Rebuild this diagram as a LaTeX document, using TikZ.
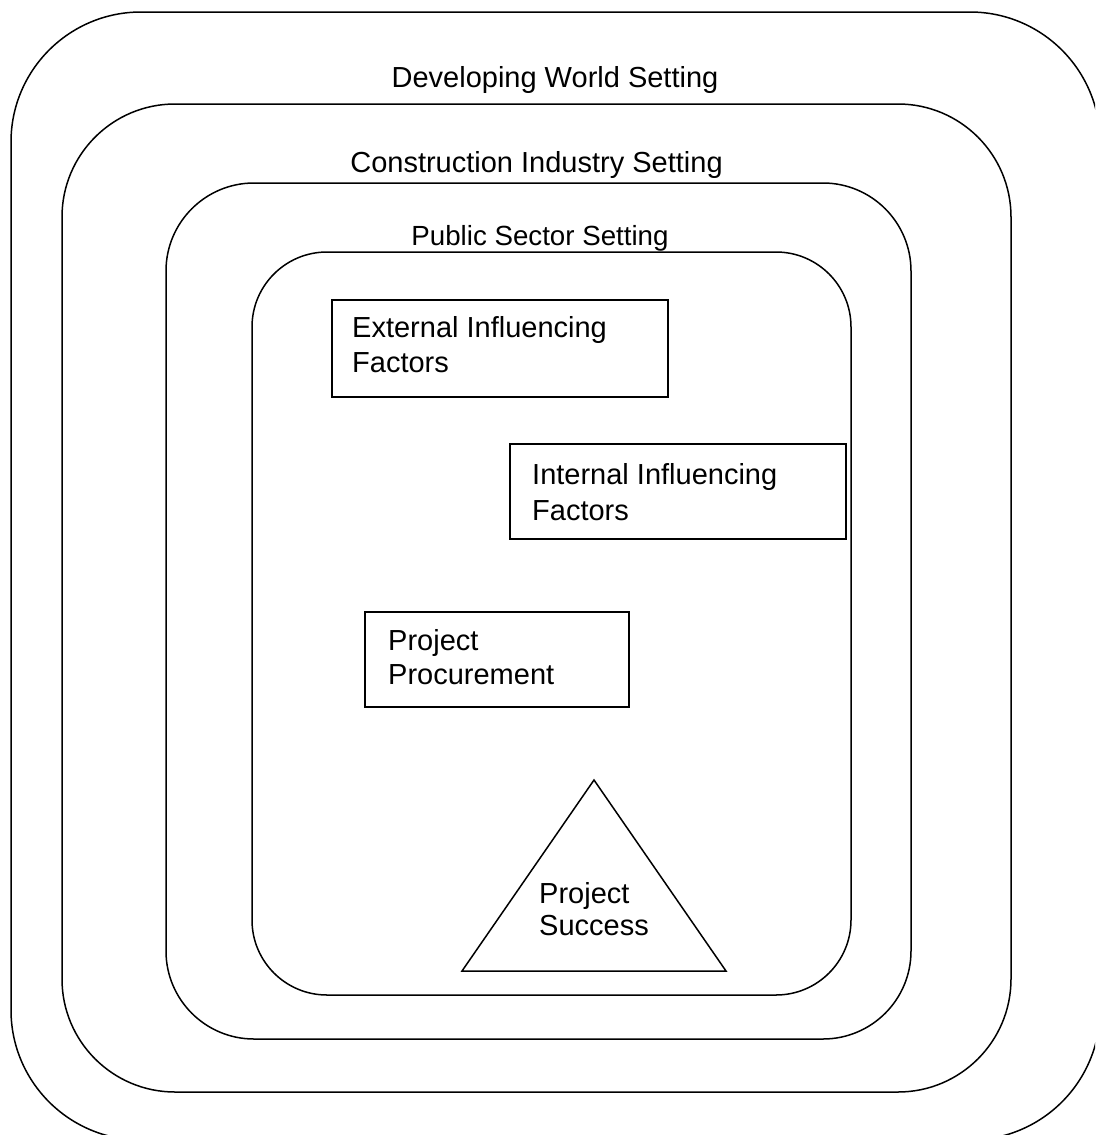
\documentclass[tikz,border=0pt]{standalone}
\usepackage{fontspec}
\setmainfont{Liberation Sans}
\begin{document}
\begin{tikzpicture}[x=1pt,y=-1pt,
  frame/.style={draw=black,line width=1.5pt},
  box/.style={draw=black,line width=1.5pt,inner sep=0pt,minimum width=#1},
  lbl/.style={inner sep=0pt,anchor=base west,font=\fontsize{29}{34}\selectfont},
  ttl/.style={inner sep=0pt,anchor=base,font=\fontsize{29}{34}\selectfont}]
\useasboundingbox (0,0) rectangle (1095,1135);
\clip (0,0) rectangle (1095,1135);
% nested settings
\draw[frame,rounded corners=130pt] (11,12) rectangle (1100,1140);
\draw[frame,rounded corners=113pt] (62,104) rectangle (1011,1092);
\draw[frame,rounded corners=88pt] (166,183) rectangle (911,1039);
\draw[frame,rounded corners=75pt] (252,252) rectangle (851,995);
\node[ttl] (t1) at (555,87) {Developing World Setting};
\node[ttl] (t2) at (536.5,172) {Construction Industry Setting};
\node[ttl,font=\fontsize{27.7}{32}\selectfont] (t3) at (540,245) {Public Sector Setting};
% boxes
\node[box=336pt,minimum height=97pt] (ext) at (500,348.5) {};
\node[lbl] (ext1) at (352,337) {External Influencing};
\node[lbl] (ext2) at (352,372) {Factors};
\node[box=336pt,minimum height=95pt] (int) at (678,491.5) {};
\node[lbl] (int1) at (532,484) {Internal Influencing};
\node[lbl] (int2) at (532,520) {Factors};
\node[box=264pt,minimum height=95pt] (proc) at (497,659.5) {};
\node[lbl] (proc1) at (388,650) {Project};
\node[lbl] (proc2) at (388,684) {Procurement};
% triangle
\coordinate (apex) at (594,780);
\coordinate (bl) at (462,971);
\coordinate (br) at (726,971);
\draw[frame,line join=miter] (apex) -- (br) -- (bl) -- cycle;
\node[lbl] (s1) at (539,903) {Project};
\node[lbl] (s2) at (539,935) {Success};
\end{tikzpicture}
\end{document}
